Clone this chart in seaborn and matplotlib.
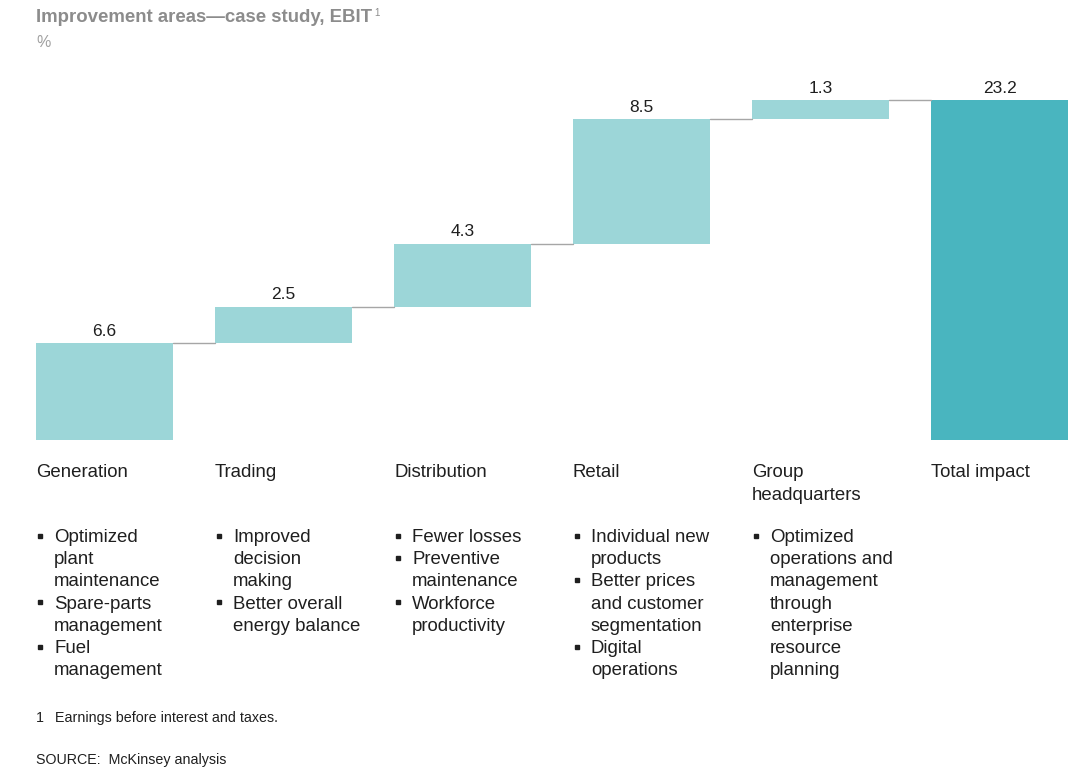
import matplotlib
matplotlib.use("Agg")
import matplotlib.pyplot as plt
from matplotlib.lines import Line2D
import seaborn as sns
import pandas as pd

# ---- data ----
categories = ["Generation", "Trading", "Distribution", "Retail",
              "Group\nheadquarters", "Total impact"]
values = [6.6, 2.5, 4.3, 8.5, 1.3, 23.2]
is_total = [False, False, False, False, False, True]
value_labels = ["6.6", "2.5", "4.3", "8.5", "1.3", "23.2"]

bullets = [
    ["Optimized\nplant\nmaintenance", "Spare-parts\nmanagement", "Fuel\nmanagement"],
    ["Improved\ndecision\nmaking", "Better overall\nenergy balance"],
    ["Fewer losses", "Preventive\nmaintenance", "Workforce\nproductivity"],
    ["Individual new\nproducts", "Better prices\nand customer\nsegmentation", "Digital\noperations"],
    ["Optimized\noperations and\nmanagement\nthrough\nenterprise\nresource\nplanning"],
    [],
]

title = "Improvement areas\u2014case study, EBIT"
unit = "%"
footnote = "Earnings before interest and taxes."
source = "SOURCE:  McKinsey analysis"

# ---- waterfall geometry ----
ends, starts = [], []
running = 0.0
for v, tot in zip(values, is_total):
    if tot:
        starts.append(0.0)
        ends.append(v)
    else:
        starts.append(running)
        running += v
        ends.append(running)

df = pd.DataFrame({"category": categories, "end": ends, "start": starts})

LIGHT = "#9cd6d8"
DARK = "#49b5bf"
TEXT = "#1f1f1f"
GREY = "#8c8c8c"
FONT = ["Liberation Sans", "DejaVu Sans"]

sns.set_theme(style="white")
plt.rcParams["font.family"] = FONT

W, H = 1074, 769
fig = plt.figure(figsize=(W / 100, H / 100), dpi=100)

def fx(px):
    return px / W

def fy(py):
    return 1 - py / H

ax = fig.add_axes([fx(36), fy(440), fx(1068) - fx(36), fy(100) - fy(440)])

bar_w = 0.765
palette = [DARK if t else LIGHT for t in is_total]
sns.barplot(data=df, x="category", y="end", hue="category", palette=palette,
            width=bar_w, legend=False, saturation=1, linewidth=0, ax=ax)
# blank out the part of each bar below its starting level
sns.barplot(data=df, x="category", y="start", color="white",
            width=bar_w, saturation=1, linewidth=0, ax=ax)

ax.set_xlim(-bar_w / 2, len(categories) - 1 + bar_w / 2)
ax.set_ylim(0, ends[-1])
ax.axis("off")

# connectors between consecutive bars
for i in range(len(categories) - 1):
    level = ends[i]
    ax.plot([i + bar_w / 2, i + 1 - bar_w / 2], [level, level],
            color="#a6a6a6", lw=1.0, clip_on=False, zorder=1)

# value labels above bars
for i, (lab, top) in enumerate(zip(value_labels, ends)):
    ax.annotate(lab, xy=(i, top), xytext=(0, 3), textcoords="offset points",
                ha="center", va="bottom", fontsize=12.5, color=TEXT,
                annotation_clip=False)

# category labels and bullet lists below the chart
col_left = [36 + 179 * i for i in range(len(categories))]
line_h = 22.2
body_size = 13.4
for i, (cat, items) in enumerate(zip(categories, bullets)):
    x0 = col_left[i]
    for k, line in enumerate(cat.split("\n")):
        fig.text(fx(x0), fy(477 + k * 23), line, fontsize=body_size,
                 color=TEXT, ha="left", va="baseline")
    row = 0
    for item in items:
        for k, line in enumerate(item.split("\n")):
            yb = 542 + row * line_h
            if k == 0:
                fig.add_artist(Line2D([fx(x0 + 4)], [fy(yb - 6.5)],
                                      transform=fig.transFigure, marker="s",
                                      markersize=3.4, color=TEXT, lw=0))
            fig.text(fx(x0 + 18), fy(yb), line, fontsize=body_size,
                     color=TEXT, ha="left", va="baseline")
            row += 1

# title block
fig.text(fx(36), fy(22), title, fontsize=13.4, fontweight="bold",
         color=GREY, ha="left", va="baseline")
fig.text(fx(374), fy(16), "1", fontsize=7, color=GREY, ha="left",
         va="baseline")
fig.text(fx(36), fy(47), unit, fontsize=11.5, color="#a0a0a0", ha="left",
         va="baseline")

# footnotes
fig.text(fx(36), fy(722), "1", fontsize=10.3, color=TEXT, ha="left",
         va="baseline")
fig.text(fx(55), fy(722), footnote, fontsize=10.3, color=TEXT, ha="left",
         va="baseline")
fig.text(fx(36), fy(764), source, fontsize=10.3, color=TEXT, ha="left",
         va="baseline")

fig.savefig("out.png", dpi=100, facecolor="white")
